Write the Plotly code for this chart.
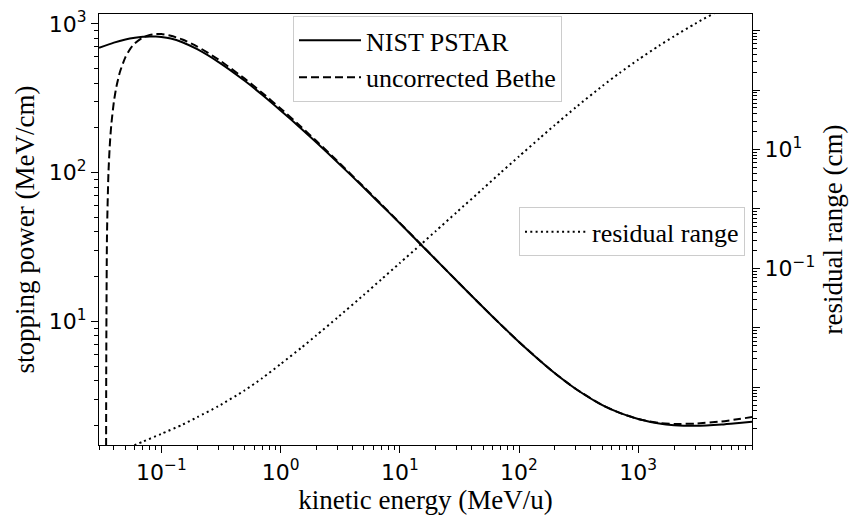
import numpy as np
import plotly.graph_objects as go

# ---------------- data ----------------
energy_pstar = [0.03, 0.04, 0.05, 0.06, 0.07, 0.08, 0.09, 0.1, 0.12, 0.15, 0.2, 0.3, 0.5, 0.7,
                1, 1.5, 2, 3, 5, 7, 10, 15, 20, 30, 50, 70, 100, 150, 200, 300, 500, 700,
                1000, 1500, 2000, 3000, 5000, 7000, 9000]
stopping_pstar = [690, 748, 785, 806, 818, 823, 822, 817, 797, 752, 675, 555, 414, 334,
                  262, 196.8, 159.4, 117.5, 79.2, 60.7, 45.7, 32.9, 26.09, 18.77, 12.46, 9.56, 7.29, 5.45, 4.49, 3.52, 2.74, 2.43,
                  2.21, 2.06, 2.01, 1.99, 2.03, 2.08, 2.12]

energy_bethe = [0.0344, 0.0345, 0.035, 0.036, 0.037, 0.038, 0.04, 0.042, 0.045, 0.05, 0.055, 0.06, 0.07, 0.08, 0.09,
                0.1, 0.12, 0.15, 0.2, 0.3, 0.5, 0.7, 1, 1.5, 2, 3, 5, 7, 10, 15, 20, 30, 50, 70,
                100, 150, 200, 300, 500, 700, 1000, 1500, 2000, 3000, 5000, 7000, 9000]
stopping_bethe = [1.0, 4.9, 37.8, 99.3, 155.6, 208, 300, 378.5, 476, 597, 681, 740, 811, 843, 854,
                  853, 832, 785, 704, 577, 428, 344, 270, 202, 163, 119.5, 80.1, 61.3, 45.95, 33.05, 26.14, 18.79, 12.46, 9.56,
                  7.29, 5.45, 4.49, 3.52, 2.74, 2.43, 2.21, 2.08, 2.05, 2.06, 2.13, 2.21, 2.28]

energy_range = [0.03, 0.05, 0.07, 0.1, 0.15, 0.2, 0.3, 0.5, 0.7, 1, 1.5, 2, 3, 5, 7, 10, 15, 20, 30,
                50, 70, 100, 150, 200, 300, 500, 700, 1000, 1500, 2000, 3000, 5000, 7000, 9000]
residual_range = [7.0e-5, 9.3e-5, 1.22e-4, 1.65e-4, 2.35e-4, 3.15e-4, 4.8e-4, 8.9e-4, 1.42e-3, 2.46e-3,
                  4.67e-3, 7.51e-3, 1.49e-2, 3.6e-2, 6.54e-2, 0.123, 0.253, 0.424, 0.881,
                  2.2, 4.06, 7.67, 15.7, 25.86, 51.4, 117, 195, 325, 560, 806, 1306, 2303, 3276, 4228]

x_tickvals = [0.1, 1, 10, 100, 1000]
x_ticktext = ["10<sup>\u22121</sup>", "10<sup>0</sup>", "10<sup>1</sup>", "10<sup>2</sup>", "10<sup>3</sup>"]
y_tickvals = [10, 100, 1000]
y_ticktext = ["10<sup>1</sup>", "10<sup>2</sup>", "10<sup>3</sup>"]
y2_tickvals = [1e-4, 1e-3, 1e-2, 0.1, 1, 10, 100, 1000]
y2_ticktext = ["", "", "", "10<sup>\u22121</sup>", "", "10<sup>1</sup>", "", ""]

def minor_vals(lo_exp, hi_exp):
    vals = []
    for e in range(lo_exp, hi_exp + 1):
        for k in range(2, 10):
            vals.append(k * 10.0 ** e)
    return vals

# ---------------- figure ----------------
W, H = 857, 520
L, R, T, B = 99, 105, 8, 75
PW, PH = W - L - R, H - T - B

serif = "Liberation Serif"
sans = "DejaVu Sans"

fig = go.Figure()
fig.add_trace(go.Scatter(x=energy_pstar, y=stopping_pstar, mode="lines", name="NIST PSTAR",
                         line=dict(color="black", width=2, shape="spline", smoothing=0.6),
                         legend="legend", yaxis="y"))
fig.add_trace(go.Scatter(x=energy_bethe, y=stopping_bethe, mode="lines", name="uncorrected Bethe",
                         line=dict(color="black", width=2, dash="8px,4px", shape="spline", smoothing=0.6),
                         legend="legend", yaxis="y"))
fig.add_trace(go.Scatter(x=energy_range, y=residual_range, mode="lines", name="residual range",
                         line=dict(color="black", width=2, dash="2px,3.3px", shape="spline", smoothing=0.6),
                         legend="legend2", yaxis="y2"))

axis_common = dict(type="log", showgrid=False, zeroline=False, showline=True, linecolor="black",
                   linewidth=1.3, ticks="outside", ticklen=7, tickwidth=1.2, tickcolor="black",
                   tickfont=dict(family=sans, size=22, color="black"))
title_font = dict(family=serif, size=27, color="black")
legend_font = dict(family=serif, size=26, color="black")

fig.update_layout(
    width=W, height=H, margin=dict(l=L, r=R, t=T, b=B),
    paper_bgcolor="white", plot_bgcolor="white",
    xaxis=dict(**axis_common, range=[np.log10(0.03), np.log10(9000)], mirror=True,
               tickvals=x_tickvals, ticktext=x_ticktext,
               minor=dict(tickvals=minor_vals(-2, 3), ticks="outside", ticklen=4, tickwidth=1, tickcolor="black"),
               title=dict(text="kinetic energy (MeV/u)", font=title_font, standoff=4)),
    yaxis=dict(**axis_common, range=[0.170, 3.066],
               tickvals=y_tickvals, ticktext=y_ticktext,
               minor=dict(tickvals=minor_vals(0, 3), ticks="outside", ticklen=4, tickwidth=1, tickcolor="black"),
               title=dict(text="stopping power (MeV/cm)", font=title_font, standoff=6)),
    yaxis2=dict(**axis_common, range=[-3.97, 3.28], overlaying="y", side="right",
                tickvals=y2_tickvals, ticktext=y2_ticktext,
                minor=dict(tickvals=minor_vals(-5, 3), ticks="outside", ticklen=4, tickwidth=1, tickcolor="black"),
                title=dict(text="residual range (cm)", font=title_font, standoff=8)),
    legend=dict(x=(293 - L) / PW, y=(H - B - 10) / PH, xanchor="left", yanchor="top",
                bgcolor="rgba(255,255,255,0.8)", bordercolor="#cccccc", borderwidth=1,
                itemwidth=62, tracegroupgap=0, font=legend_font),
    legend2=dict(x=(519 - L) / PW, y=(H - B - 204) / PH, xanchor="left", yanchor="top",
                 bgcolor="rgba(255,255,255,0.8)", bordercolor="#cccccc", borderwidth=1,
                 itemwidth=62, font=legend_font),
)

fig.write_html("out.html")
